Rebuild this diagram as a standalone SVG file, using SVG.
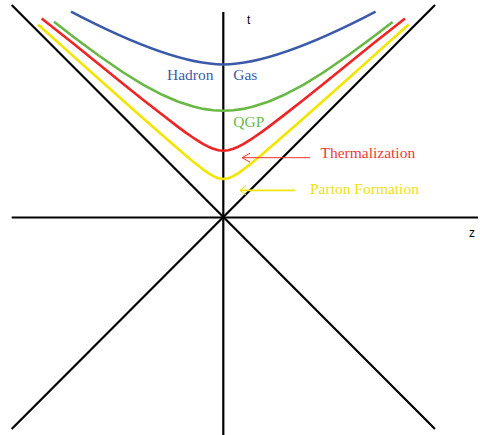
<svg xmlns="http://www.w3.org/2000/svg" width="480" height="435" viewBox="0 0 480 435">
<style>
.ax{stroke:#000;stroke-width:2.2;fill:none;stroke-linecap:butt}
.cv{fill:none;stroke-width:2.6;stroke-linejoin:round;stroke-linecap:butt}
.lbl{font-family:"Liberation Serif","Times New Roman",serif;font-size:15.5px}
.axl{font-family:"Liberation Sans",Arial,sans-serif;font-size:12px;fill:#000}
</style>
<defs>
<marker id="hr" markerUnits="userSpaceOnUse" markerWidth="12" markerHeight="12" refX="9" refY="6" orient="auto">
<path d="M1,1.5 L9,6 L1,10.5" fill="none" stroke="#ee3333" stroke-width="1"/>
</marker>
<marker id="hy" markerUnits="userSpaceOnUse" markerWidth="12" markerHeight="12" refX="9" refY="6" orient="auto">
<path d="M3,1.3 L9,6 L3,10.7" fill="none" stroke="#f2e40a" stroke-width="1"/>
</marker>
</defs>
<rect width="480" height="435" fill="#fff"/>
<g id="axes">
<line class="ax" x1="223.3" y1="12" x2="223.3" y2="435"/>
<line class="ax" x1="11.7" y1="217.5" x2="478" y2="217.5"/>
<line class="ax" x1="11.7" y1="5" x2="435" y2="429"/>
<line class="ax" x1="435" y1="5" x2="11.7" y2="429"/>
<text class="axl" x="247" y="24">t</text>
<text class="axl" x="469" y="236.5">z</text>
</g>
<g id="hadron-gas">
<path class="cv" stroke="#3b5ba9" d="M71,11.7 Q171.8,64.5 223.3,64.5 Q274.8,64.5 375.6,11.7"/>
<text class="lbl" fill="#3d5ca8" x="167" y="80">Hadron</text>
<text class="lbl" fill="#3d5ca8" x="233.3" y="80">Gas</text>
</g>
<g id="qgp">
<polyline class="cv" stroke="#68b843" points="54,21.7 73.3,36.7 98.3,55.3 123.3,72.5 143.3,84.8 163.3,95.3 178.3,101.8 193.3,106.6 203.3,108.9 213.3,110.2 223.3,110.7 233.3,110.2 243.3,108.9 253.3,106.6 268.3,101.8 283.3,95.3 303.3,84.8 323.3,72.5 348.3,55.3 373.3,36.7 392.6,22"/>
<text class="lbl" fill="#6abb48" x="233.3" y="127.3">QGP</text>
</g>
<g id="thermalization">
<polyline class="cv" stroke="#ee2525" points="41.7,18.5 73.3,43.5 98.3,63.8 123.3,84 143.3,99.9 163.3,115.6 178.3,127.1 185.8,132.6 193.3,137.8 203.3,144.1 208.3,146.7 213.3,148.8 218.3,150.2 223.3,150.7 228.3,150.2 233.3,148.8 238.3,146.7 243.3,144.1 253.3,137.8 260.8,132.6 268.3,127.1 283.3,115.6 303.3,99.9 323.3,84 348.3,63.8 373.3,43.5 405,18.5"/>
<text class="lbl" fill="#ee3a3a" x="320.5" y="158.3">Thermalization</text>
</g>
<g id="parton-formation">
<polyline class="cv" stroke="#f3e500" points="38,24.5 73.3,56.1 98.3,78.5 123.3,100.75 143.3,118.5 163.3,136.1 178.3,149.1 185.8,155.5 193.3,161.7 203.3,169.6 208.3,173.1 213.3,176.1 218.3,178.2 223.3,179 228.3,178.2 233.3,176.1 238.3,173.1 243.3,169.6 253.3,161.7 260.8,155.5 268.3,149.1 283.3,136.1 303.3,118.5 323.3,100.75 348.3,78.5 373.3,56.1 408.6,24.5"/>
<text class="lbl" fill="#f0e010" x="310" y="194">Parton Formation</text>
</g>
<g id="connectors">
<line x1="310" y1="157.7" x2="242" y2="157.7" stroke="#ee3333" stroke-width="1" marker-end="url(#hr)"/>
<line x1="295" y1="190.3" x2="240" y2="190.3" stroke="#f2e40a" stroke-width="1.7" marker-end="url(#hy)"/>
</g>
</svg>
